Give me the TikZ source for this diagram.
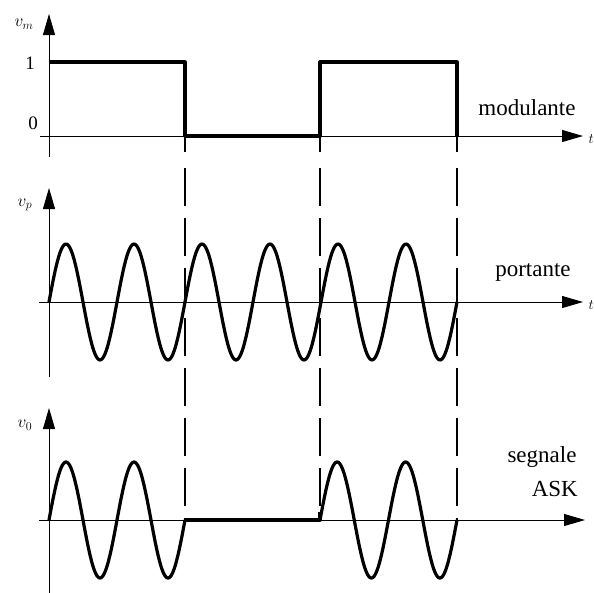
\documentclass[tikz,border=0pt]{standalone}
\usepackage{fontspec}
\setmainfont{Liberation Serif}
\usetikzlibrary{arrows.meta}
\begin{document}
\begin{tikzpicture}[x=1pt,y=-1pt,
  axis/.style={line width=0.9pt,-{Triangle[length=21pt,width=12pt]}},
  sig/.style={line width=3.2pt,line join=round},
  guide/.style={line width=1.1pt,dash pattern=on 38pt off 12pt},
  lbl/.style={font=\fontsize{23}{26}\selectfont,inner sep=0pt},
  vlbl/.style={font=\fontsize{18}{20}\selectfont,inner sep=0pt},
  num/.style={font=\fontsize{19}{22}\selectfont,inner sep=0pt},
  tlbl/.style={font=\fontsize{15}{17}\selectfont,inner sep=0pt,anchor=east}]
\useasboundingbox (0,0) rectangle (594,592);
% ---------- panel 1: modulante ----------
\coordinate (a1b) at (49,157); \coordinate (a1t) at (49,14);
\coordinate (h1s) at (40,136); \coordinate (h1e) at (583,136);
\draw[axis] (a1b) -- (a1t);
\draw[axis] (h1s) -- (h1e);
\draw[sig] (49,62) -- (185,62) -- (185,136) -- (320,136) -- (320,62) -- (457,62) -- (457,136);
\node[vlbl] (vm) at (24,24) {$v_m$};
\node[num] (one) at (30,63) {1};
\node[num] (zero) at (33,123) {0};
\node[lbl] (mod) at (527,108) {modulante};
\node[tlbl] (t1) at (594,139) {$t$};
% ---------- panel 2: portante ----------
\coordinate (a2b) at (49,377); \coordinate (a2t) at (49,188);
\coordinate (h2s) at (39,302); \coordinate (h2e) at (583,302);
\draw[axis] (a2b) -- (a2t);
\draw[axis] (h2s) -- (h2e);
\draw[sig] plot[domain=0:408,samples=300,smooth] ({49+\x},{302-58*sin(\x/68*360)});
\node[vlbl] (vp) at (25,205) {$v_p$};
\node[lbl] (port) at (533,272) {portante};
\node[tlbl] (t2) at (594,305) {$t$};
% ---------- panel 3: segnale ASK ----------
\coordinate (a3b) at (49,600); \coordinate (a3t) at (49,408);
\coordinate (h3s) at (39,520); \coordinate (h3e) at (585,520);
\draw[axis] (a3b) -- (a3t);
\draw[axis] (h3s) -- (h3e);
\draw[sig] plot[domain=0:136,samples=150,smooth] ({49+\x},{520-58*sin(\x/68*360)});
\draw[sig] (185,520) -- (320,520) -- (320,512);
\draw[sig] plot[domain=0:137,samples=150,smooth] ({320+\x},{520-58*sin(\x/68.5*360)});
\node[vlbl] (vo) at (25,425) {$v_0$};
\node[lbl] (seg) at (542,457) {segnale};
\node[lbl,anchor=east] (ask) at (578,489) {ASK};
% ---------- dashed guides ----------
\foreach \gx in {185,320,457}{
  \draw[line width=1.1pt] (\gx,136) -- (\gx,152);
}
\coordinate (g1t) at (185,168); \coordinate (g1b) at (185,520);
\coordinate (g2t) at (320,168); \coordinate (g2b) at (320,520);
\coordinate (g3t) at (457,168); \coordinate (g3b) at (457,520);
\draw[guide] (g1t) -- (g1b);
\draw[guide] (g2t) -- (g2b);
\draw[guide] (g3t) -- (g3b);
\end{tikzpicture}
\end{document}
